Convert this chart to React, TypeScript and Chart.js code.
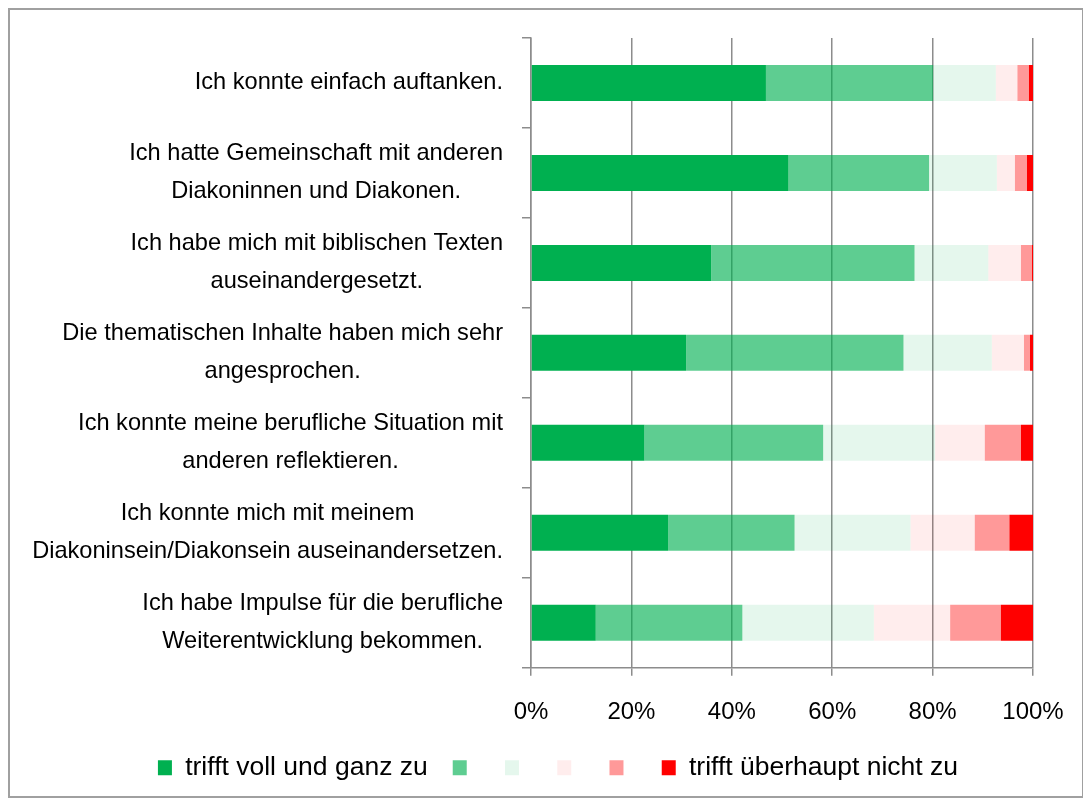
import React, { useEffect, useRef } from "react";
import { Chart, registerables } from "chart.js";

Chart.register(...registerables);

const FONT = "'Liberation Sans', Arial, Helvetica, sans-serif";

const categories: string[][] = [
  ["Ich konnte einfach auftanken."],
  ["Ich hatte Gemeinschaft mit anderen", "Diakoninnen und Diakonen."],
  ["Ich habe mich mit biblischen Texten", "auseinandergesetzt."],
  ["Die thematischen Inhalte haben mich sehr", "angesprochen."],
  ["Ich konnte meine berufliche Situation mit", "anderen reflektieren."],
  ["Ich konnte mich mit meinem", "Diakoninsein/Diakonsein auseinandersetzen."],
  ["Ich habe Impulse für die berufliche", "Weiterentwicklung bekommen."],
];

const seriesNames = [
  "trifft voll und ganz zu",
  "",
  "",
  "",
  "",
  "trifft überhaupt nicht zu",
];

const s1 = [46.8, 51.3, 35.9, 30.9, 22.6, 27.3, 12.9];
const s2 = [33.3, 28.0, 40.5, 43.3, 35.6, 25.2, 29.2];
const s3 = [12.5, 13.5, 14.7, 17.6, 22.3, 23.1, 26.2];
const s4 = [4.3, 3.6, 6.5, 6.4, 9.9, 12.8, 15.2];
const s5 = [2.3, 2.4, 2.2, 1.2, 7.2, 6.9, 10.1];
const s6 = [0.8, 1.2, 0.2, 0.6, 2.4, 4.7, 6.4];

const seriesValues = [s1, s2, s3, s4, s5, s6];

const colors = [
  "rgb(0,176,80)",
  "rgba(0,176,80,0.63)",
  "rgba(0,176,80,0.1)",
  "rgba(255,0,0,0.07)",
  "rgba(255,0,0,0.4)",
  "rgb(255,0,0)",
];

const xTickSuffix = "%";

const blockLabelPlugin = {
  id: "blockLabels",
  afterDraw(chart: any) {
    const yScale = chart.scales.y;
    const ctx = chart.ctx;
    ctx.save();
    ctx.font = `23.6px ${FONT}`;
    ctx.fillStyle = "#000";
    ctx.textAlign = "center";
    ctx.textBaseline = "middle";
    const right = chart.chartArea.left - 28;
    const lineH = 38;
    categories.forEach((lines, i) => {
      const cy = yScale.getPixelForValue(i);
      const w = Math.max(...lines.map((l) => ctx.measureText(l).width));
      const cx = right - w / 2;
      lines.forEach((l, j) => {
        ctx.fillText(l, cx, cy + (j - (lines.length - 1) / 2) * lineH);
      });
    });
    ctx.restore();
  },
};

export default function App() {
  const ref = useRef<HTMLCanvasElement | null>(null);

  useEffect(() => {
    if (!ref.current) return;
    const chart = new Chart(ref.current, {
      type: "bar",
      data: {
        labels: categories.map((l) => l.join(" ")),
        datasets: seriesValues.map((vals, i) => ({
          label: seriesNames[i],
          data: vals,
          backgroundColor: colors[i],
          borderWidth: 0,
          barPercentage: 0.4,
          categoryPercentage: 1.0,
        })),
      },
      options: {
        indexAxis: "y",
        responsive: false,
        maintainAspectRatio: false,
        animation: false,
        layout: { padding: { top: 28, right: 49, left: 73, bottom: 5 } },
        plugins: {
          tooltip: { enabled: false },
          legend: {
            position: "bottom",
            labels: {
              boxWidth: 14,
              boxHeight: 15,
              padding: 25,
              color: "#000",
              font: { size: 26.5, family: FONT },
            },
          },
        },
        scales: {
          x: {
            type: "linear",
            stacked: true,
            min: 0,
            max: 100,
            ticks: {
              stepSize: 20,
              callback: (v: any) => v + xTickSuffix,
              color: "#000",
              font: { size: 24, family: FONT },
              padding: 22,
              maxRotation: 0,
            },
            grid: { color: "#8c8c8c", lineWidth: 1.5, tickLength: 8 },
            border: { color: "#8c8c8c", width: 1.5 },
            afterFit: (s: any) => {
              s.height = s.height - 19;
              s.paddingLeft = 0;
              s.paddingRight = 0;
            },
          },
          y: {
            type: "category",
            stacked: true,
            offset: true,
            ticks: { display: false },
            grid: {
              drawOnChartArea: false,
              offset: true,
              tickLength: 9,
              color: "#8c8c8c",
              lineWidth: 1.5,
            },
            border: { color: "#8c8c8c", width: 1.5 },
            afterFit: (s: any) => {
              s.width = 448;
            },
          },
        },
      },
      plugins: [blockLabelPlugin],
    } as any);
    return () => chart.destroy();
  }, []);

  return (
    <div
      style={{
        width: 1072,
        height: 786,
        border: "2px solid #a0a0a0",
        background: "#fff",
      }}
    >
      <canvas ref={ref} width={1072} height={786} style={{ display: "block" }} />
    </div>
  );
}
